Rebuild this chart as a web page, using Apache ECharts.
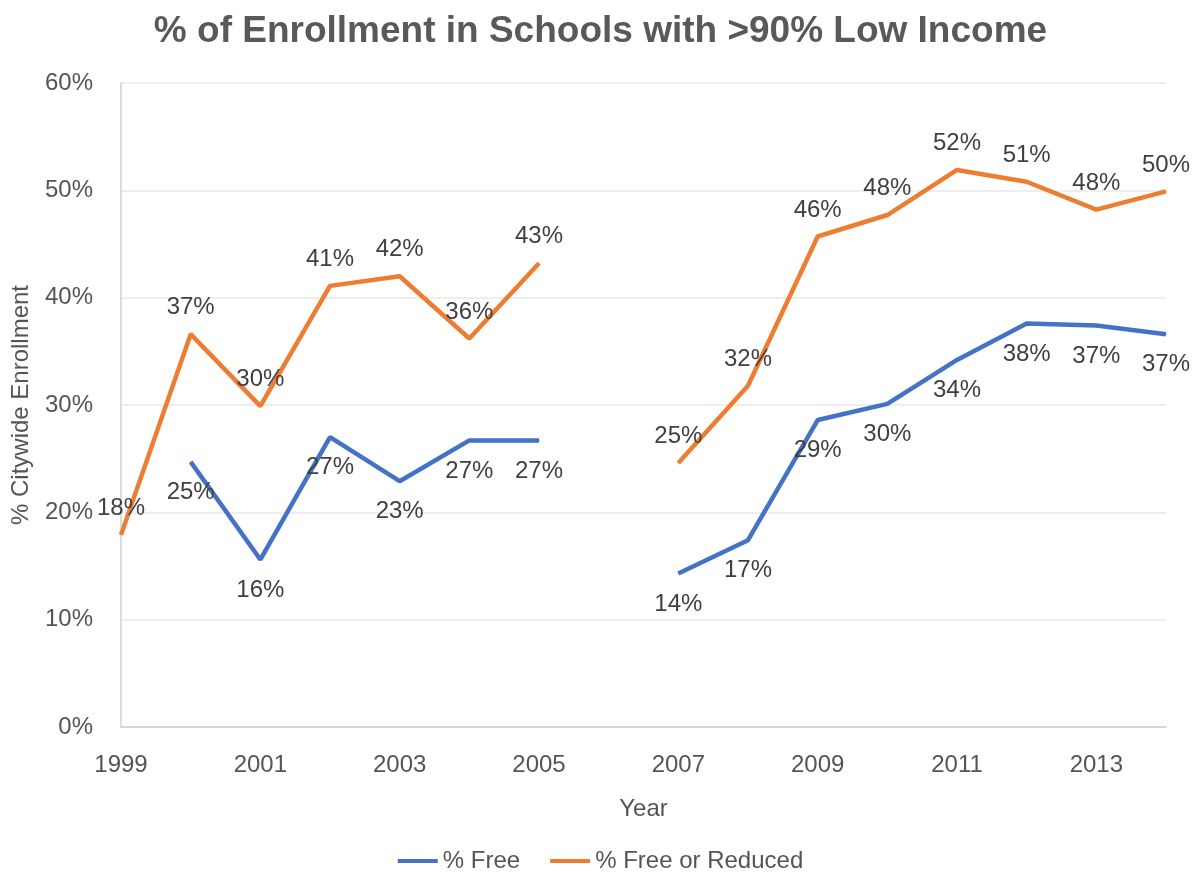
<!DOCTYPE html>
<html>
<head>
<meta charset="utf-8">
<title>% of Enrollment in Schools with >90% Low Income</title>
<script src="https://cdn.jsdelivr.net/npm/echarts@6/dist/echarts.min.js"></script>
<style>
    html, body { margin: 0; padding: 0; background: #fff; }
    #chart { width: 1201px; height: 880px; }
</style>
</head>
<body>
<div id="chart"></div>
<script>
var years = ['1999', '2000', '2001', '2002', '2003', '2004', '2005', '2006',
    '2007', '2008', '2009', '2010', '2011', '2012', '2013', '2014'];
// null = no data that year
var freePct = [null, 24.7, 15.6, 27.0, 22.9, 26.7, 26.7, null,
    14.3, 17.4, 28.6, 30.1, 34.2, 37.6, 37.4, 36.6];
var freeReducedPct = [17.9, 36.6, 29.9, 41.1, 42.0, 36.2, 43.2, null,
    24.6, 31.8, 45.7, 47.7, 51.9, 50.8, 48.2, 49.9];
var yTicks = [0, 10, 20, 30, 40, 50, 60];

var textColor = '#555555';
var font = 'Liberation Sans, Arial, sans-serif';

var mychart = echarts.init(document.getElementById('chart'));

function pctLabel(p) {
    return Math.round(p.value) + '%';
}

var option = {
    backgroundColor: '#fff',
    color: ['#4472C4', '#ED7D31'],
    title: {
        text: '% of Enrollment in Schools with >90% Low Income',
        left: 'center',
        top: 8,
        textStyle: {
            color: '#595959',
            fontWeight: 'bold',
            fontSize: 37,
            fontFamily: font
        }
    },
    legend: {
        data: ['% Free', '% Free or Reduced'],
        left: 'center',
        bottom: 2,
        icon: 'rect',
        itemWidth: 40,
        itemHeight: 4,
        itemGap: 30,
        textStyle: { color: textColor, fontSize: 24, fontFamily: font }
    },
    grid: {
        left: 121,
        right: 35,
        top: 83,
        bottom: 153,
        outerBoundsMode: 'none'
    },
    xAxis: {
        type: 'category',
        data: years,
        boundaryGap: false,
        name: 'Year',
        nameLocation: 'middle',
        nameGap: 70,
        nameTextStyle: { color: textColor, fontSize: 24, fontFamily: font },
        axisLine: { lineStyle: { color: '#d0d0d0', width: 1.5 } },
        axisTick: { show: false },
        axisLabel: {
            interval: 1,
            margin: 26,
            color: textColor,
            fontSize: 24,
            fontFamily: font
        },
        splitLine: { show: false }
    },
    yAxis: {
        type: 'value',
        min: yTicks[0],
        max: yTicks[yTicks.length - 1],
        interval: 10,
        name: '% Citywide Enrollment',
        nameLocation: 'middle',
        nameGap: 88,
        nameTextStyle: { color: textColor, fontSize: 24, fontFamily: font },
        axisLine: { show: true, lineStyle: { color: '#d0d0d0', width: 1.5 } },
        axisTick: { show: false },
        axisLabel: {
            formatter: '{value}%',
            margin: 28,
            color: textColor,
            fontSize: 24,
            fontFamily: font
        },
        splitLine: { lineStyle: { color: '#e8e8e8', width: 1.5 } }
    },
    series: [
        {
            name: '% Free',
            type: 'line',
            data: freePct,
            symbol: 'circle',
            symbolSize: 1,
            lineStyle: { width: 4.5 },
            label: {
                show: true,
                position: 'bottom',
                distance: 18,
                formatter: pctLabel,
                color: '#404040',
                fontSize: 24,
                fontFamily: font
            }
        },
        {
            name: '% Free or Reduced',
            type: 'line',
            data: freeReducedPct,
            symbol: 'circle',
            symbolSize: 1,
            lineStyle: { width: 4.5 },
            label: {
                show: true,
                position: 'top',
                distance: 14,
                formatter: pctLabel,
                color: '#404040',
                fontSize: 24,
                fontFamily: font
            }
        }
    ]
};
mychart.setOption(option);
</script>
</body>
</html>
